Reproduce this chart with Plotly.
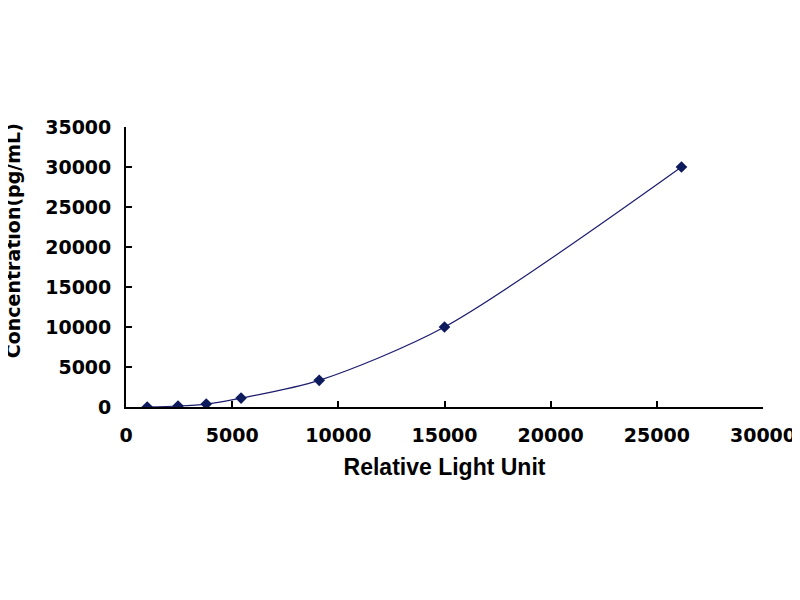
import plotly.graph_objects as go

# standard curve points
rlu = [1000, 2450, 3780, 5420, 9100, 15000, 26160]
conc = [0, 123, 370, 1111, 3333, 10000, 30000]

x_ticks = [0, 5000, 10000, 15000, 20000, 25000, 30000]
y_ticks = [0, 5000, 10000, 15000, 20000, 25000, 30000, 35000]

tick_font = dict(family="DejaVu Sans", size=19, color="black", weight="bold")
title_font = dict(family="Liberation Sans", size=23, color="black", weight="bold")

fig = go.Figure()
fig.add_trace(go.Scatter(
    x=rlu, y=conc, mode="lines+markers",
    line=dict(color="#1c1c6e", width=1.2, shape="spline", smoothing=0.8),
    marker=dict(symbol="diamond", size=9, color="#0d1a5c"),
    showlegend=False,
))

# page body has an 8px margin, so margins are shifted by 8
fig.update_layout(
    width=800, height=600,
    paper_bgcolor="white", plot_bgcolor="white",
    margin=dict(l=118, r=42, t=119, b=201),
    xaxis=dict(
        range=[0, 30000], tickvals=x_ticks, ticktext=[str(v) for v in x_ticks],
        ticks="inside", ticklen=6,
        tickcolor="black", tickwidth=1.5, showline=True, linecolor="black",
        linewidth=1.8, showgrid=False, zeroline=False, tickfont=tick_font,
        ticklabelstandoff=10,
        title=dict(text="Relative Light Unit", font=title_font, standoff=14),
    ),
    yaxis=dict(
        range=[0, 35000], tickvals=y_ticks, ticktext=[str(v) for v in y_ticks],
        ticks="inside", ticklen=6,
        tickcolor="black", tickwidth=1.5, showline=True, linecolor="black",
        linewidth=1.8, showgrid=False, zeroline=False, tickfont=tick_font,
        ticklabelstandoff=9,
    ),
    annotations=[dict(
        text="Concentration(pg/mL)", textangle=-90,
        font=dict(family="DejaVu Sans", size=19, color="black", weight="bold"),
        xref="paper", yref="paper", x=-0.177, y=0.593,
        xanchor="center", yanchor="middle", showarrow=False,
    )],
)

fig.write_html("out.html")
